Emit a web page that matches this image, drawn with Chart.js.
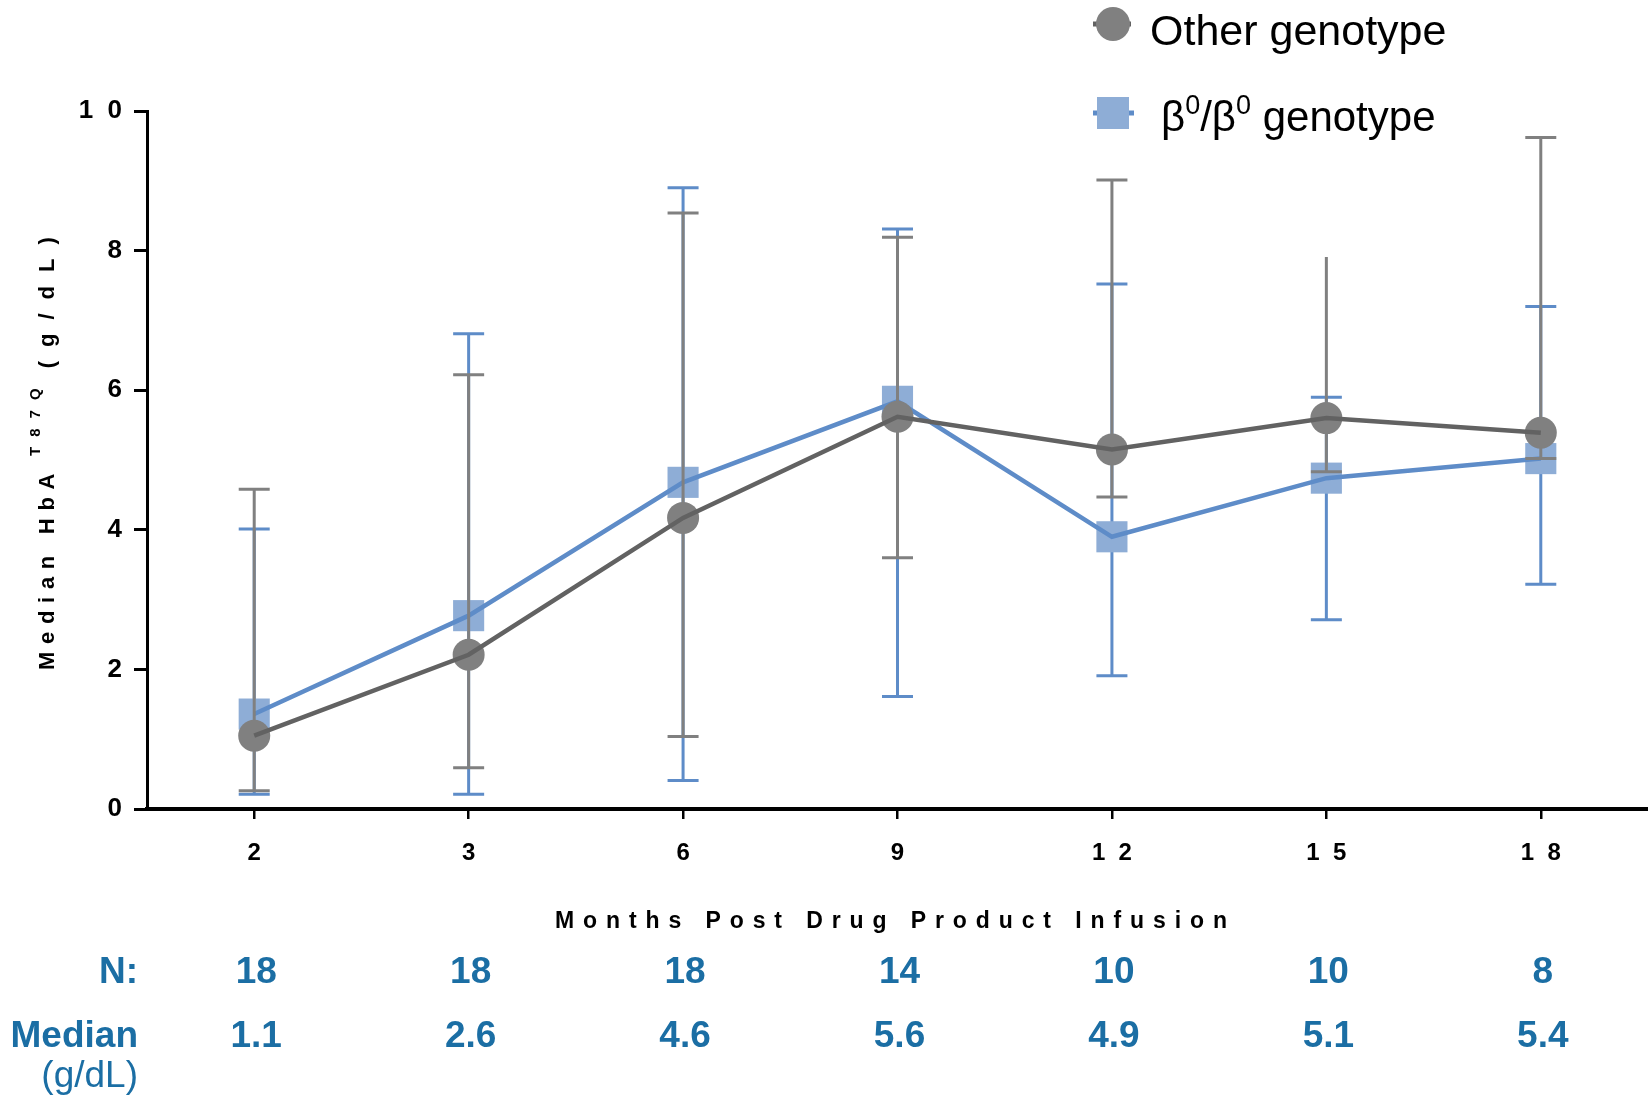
<!DOCTYPE html>
<html>
<head>
<meta charset="utf-8">
<script src="https://cdn.jsdelivr.net/npm/chart.js@4.4.1/dist/chart.umd.min.js"></script>
<style>
  html, body { margin: 0; padding: 0; background: #fff; }
  canvas { display: block; }
</style>
</head>
<body>
<canvas id="chart" width="1648" height="1098"></canvas>
<script>
// months post infusion (x categories)
const months = ['2', '3', '6', '9', '12', '15', '18'];

// Other genotype: median and range
const otherMedian = [1.05, 2.21, 4.17, 5.62, 5.15, 5.60, 5.39];
const otherLow = [0.26, 0.59, 1.04, 3.60, 4.47, 4.83, 5.02];
const otherHigh = [4.58, 6.22, 8.54, 8.19, 9.01, 7.91, 9.62];
const otherTopCap = [true, true, true, true, true, false, true];

// β0/β0 genotype: median and range
const betaMedian = [1.36, 2.77, 4.68, 5.84, 3.90, 4.74, 5.02];
const betaLow = [0.21, 0.21, 0.41, 1.61, 1.91, 2.71, 3.22];
const betaHigh = [4.01, 6.81, 8.90, 8.31, 7.52, 5.90, 7.20];

// table under the axis
const nPatients = ['18', '18', '18', '14', '10', '10', '8'];
const overallMedian = ['1.1', '2.6', '4.6', '5.6', '4.9', '5.1', '5.4'];

const GRAY = '#808080';
const GRAY_LINE = '#626262';
const BLUE = '#5e8cc8';
const BLUE_MARK = '#8eadd6';
const TABLE_BLUE = '#1b6ea4';
const FONT = '"Liberation Sans", Arial, sans-serif';

// spread out digits like "1  2"
const spaced = s => s.split('').join('  ');

function spacedText(ctx, text, x, y, gap) {
    for (const ch of text) {
        ctx.fillText(ch, x, y);
        x += ctx.measureText(ch).width + gap;
    }
    return x;
}

const errorBars = {
    id: 'errorBars',
    beforeDatasetDraw(chart, args) {
        const ds = chart.data.datasets[args.index];
        if (!ds.errLow) return;
        const { ctx, scales: { x, y } } = chart;
        ctx.save();
        ctx.strokeStyle = ds.errColor;
        ctx.lineWidth = 3;
        ds.errLow.forEach((lo, i) => {
            const px = x.getPixelForValue(i);
            const yLo = y.getPixelForValue(lo);
            const yHi = y.getPixelForValue(ds.errHigh[i]);
            ctx.beginPath();
            ctx.moveTo(px, yLo);
            ctx.lineTo(px, yHi);
            ctx.moveTo(px - 15.5, yLo);
            ctx.lineTo(px + 15.5, yLo);
            if (!ds.topCap || ds.topCap[i]) {
                ctx.moveTo(px - 15.5, yHi);
                ctx.lineTo(px + 15.5, yHi);
            }
            ctx.stroke();
        });
        ctx.restore();
    }
};

const annotations = {
    id: 'annotations',
    afterDraw(chart) {
        const { ctx, scales: { x } } = chart;
        ctx.save();
        ctx.fillStyle = '#000';
        ctx.textBaseline = 'alphabetic';

        // y axis title, rotated
        ctx.save();
        ctx.translate(54, 670);
        ctx.rotate(-Math.PI / 2);
        ctx.font = 'bold 22px ' + FONT;
        let cx = spacedText(ctx, 'Median HbA', 0, 0, 7.7);
        ctx.font = 'bold 15px ' + FONT;
        cx = spacedText(ctx, 'T87Q', cx + 10, -14, 10);
        ctx.font = 'bold 22px ' + FONT;
        spacedText(ctx, '(g/dL)', cx + 10, 0, 14);
        ctx.restore();

        // x axis title
        ctx.font = 'bold 23px ' + FONT;
        spacedText(ctx, 'Months Post Drug Product Infusion', 555, 928, 8.9);

        // legend
        ctx.strokeStyle = GRAY_LINE;
        ctx.lineWidth = 5;
        ctx.beginPath(); ctx.moveTo(1093, 24); ctx.lineTo(1131, 24); ctx.stroke();
        ctx.fillStyle = GRAY;
        ctx.beginPath(); ctx.arc(1113, 24, 17, 0, Math.PI * 2); ctx.fill();
        ctx.strokeStyle = BLUE;
        ctx.beginPath(); ctx.moveTo(1093, 113); ctx.lineTo(1134, 113); ctx.stroke();
        ctx.fillStyle = BLUE_MARK;
        ctx.fillRect(1097, 97, 32, 32);

        ctx.fillStyle = '#000';
        ctx.font = '43px ' + FONT;
        ctx.fillText('Other genotype', 1150, 45);
        let lx = 1161;
        const parts = [['β', 0], ['0', 1], ['/', 0], ['β', 0], ['0', 1], [' genotype', 0]];
        parts.forEach(([t, sup]) => {
            ctx.font = (sup ? '27px ' : '42px ') + FONT;
            ctx.fillText(t, lx, sup ? 114 : 131);
            lx += ctx.measureText(t).width;
        });

        // N and median table
        ctx.fillStyle = TABLE_BLUE;
        ctx.font = 'bold 37px ' + FONT;
        ctx.textAlign = 'right';
        ctx.fillText('N:', 138, 983);
        ctx.fillText('Median', 138, 1047);
        ctx.font = '37px ' + FONT;
        ctx.fillText('(g/dL)', 138, 1087);
        ctx.textAlign = 'center';
        ctx.font = 'bold 37px ' + FONT;
        months.forEach((m, i) => {
            const px = x.getPixelForValue(i) + 2;
            ctx.fillText(nPatients[i], px, 983);
            ctx.fillText(overallMedian[i], px, 1047);
        });
        ctx.restore();
    }
};

new Chart(document.getElementById('chart'), {
    type: 'line',
    data: {
        labels: months,
        datasets: [
            { label: 'Other genotype', data: otherMedian, borderColor: GRAY_LINE, borderWidth: 4.5, pointRadius: 0, fill: false },
            { label: 'Other genotype markers', data: otherMedian, showLine: false, pointStyle: 'circle', pointRadius: 16,
              pointBackgroundColor: GRAY, pointBorderWidth: 0,
              errLow: otherLow, errHigh: otherHigh, topCap: otherTopCap, errColor: GRAY },
            { label: 'β0/β0 genotype', data: betaMedian, borderColor: BLUE, borderWidth: 4.5, pointRadius: 0, fill: false },
            { label: 'β0/β0 genotype markers', data: betaMedian, showLine: false, pointStyle: 'rect', pointRadius: 22,
              pointBackgroundColor: BLUE_MARK, pointBorderWidth: 0,
              errLow: betaLow, errHigh: betaHigh, errColor: BLUE }
        ]
    },
    options: {
        responsive: false,
        animation: false,
        devicePixelRatio: 1,
        layout: { autoPadding: false, padding: { top: 111, right: 0, bottom: 0, left: 0 } },
        plugins: { legend: { display: false }, tooltip: { enabled: false } },
        scales: {
            x: {
                offset: true,
                afterFit(scale) { scale.height = 289; scale.paddingRight = 0; scale.paddingLeft = 0; },
                grid: { display: true, drawOnChartArea: false, drawTicks: true, tickLength: 10, color: '#000', lineWidth: 2.5 },
                border: { display: true, color: '#000', width: 4 },
                ticks: {
                    color: '#000', padding: 20, maxRotation: 0,
                    font: { family: FONT, size: 24, weight: 'bold' },
                    callback: (v, i) => spaced(months[i])
                }
            },
            y: {
                min: 0, max: 10,
                afterFit(scale) { scale.width = 147; },
                grid: { display: true, drawOnChartArea: false, drawTicks: true, tickLength: 13, color: '#000', lineWidth: 3 },
                border: { display: true, color: '#000', width: 3 },
                ticks: {
                    stepSize: 2, color: '#000', padding: 12,
                    font: { family: FONT, size: 26, weight: 'bold' },
                    callback: v => spaced(String(v))
                }
            }
        }
    },
    plugins: [errorBars, annotations]
});
</script>
</body>
</html>
